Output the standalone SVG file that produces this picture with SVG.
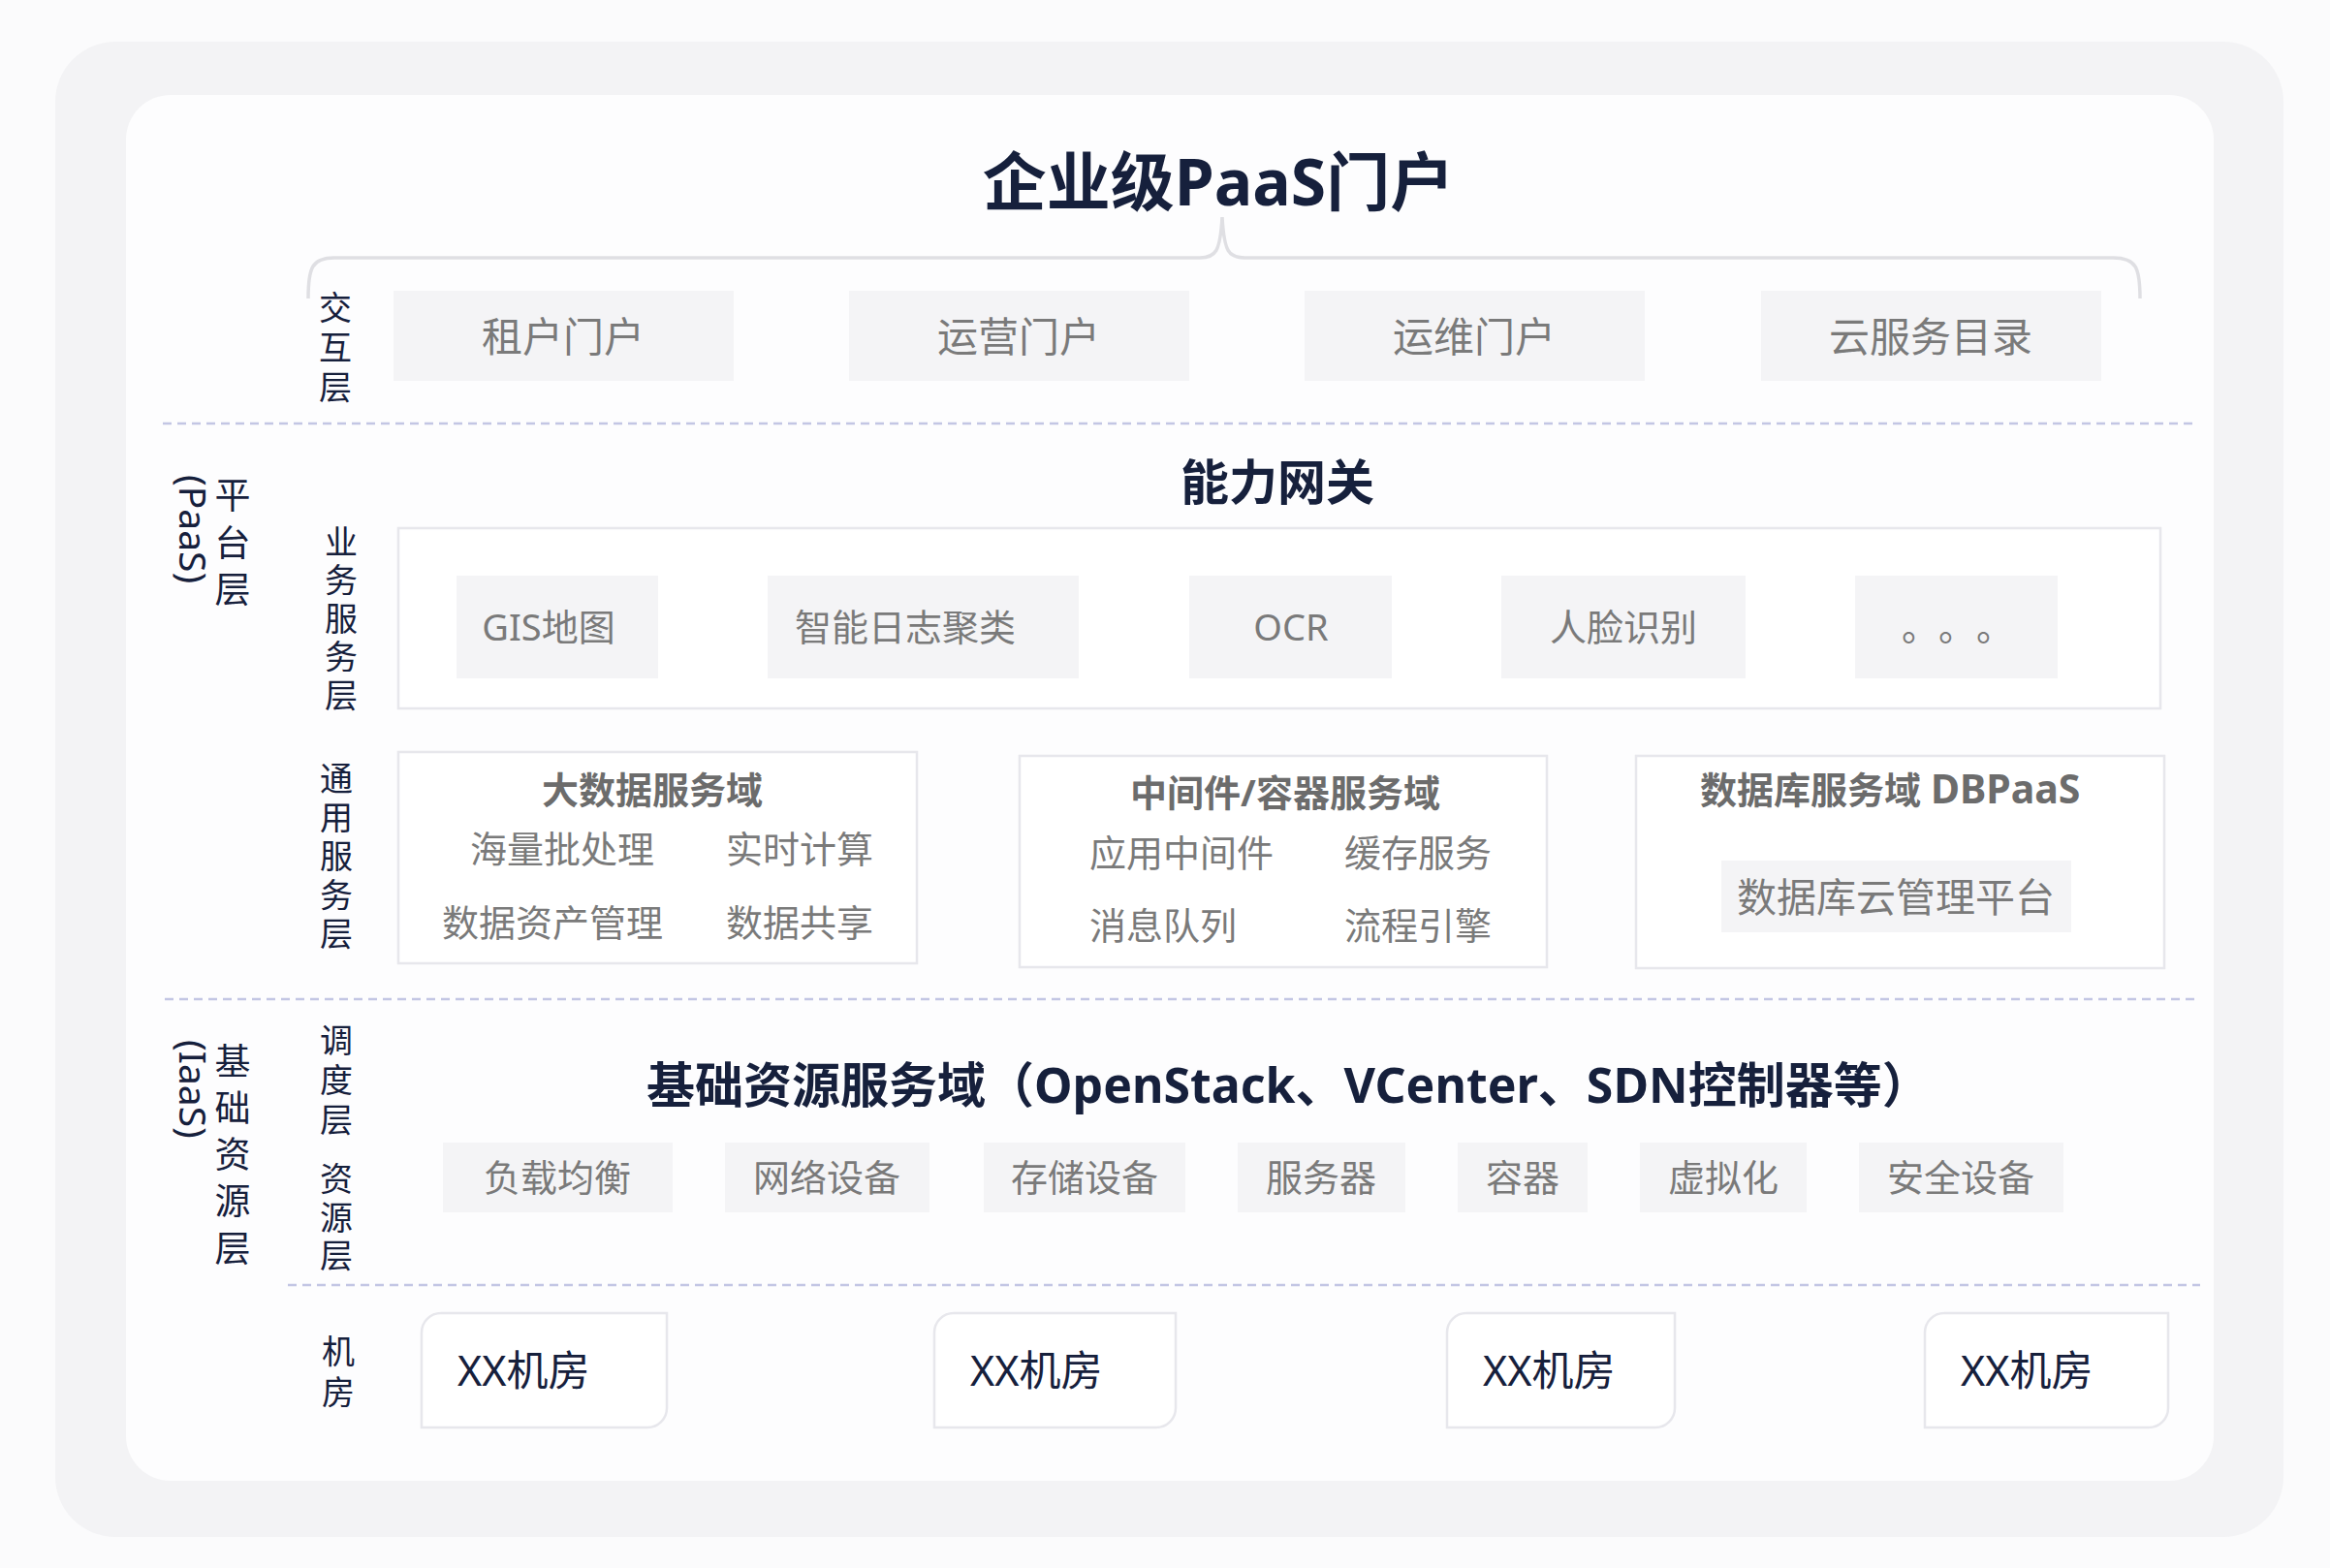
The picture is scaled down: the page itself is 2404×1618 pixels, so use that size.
<svg xmlns="http://www.w3.org/2000/svg" width="2404" height="1618" viewBox="0 0 2404 1618" font-family="'Noto Sans','Noto Sans CJK SC',sans-serif">
<style>
.nav{fill:#16203c}
.g{fill:#7a7a7a}
.gb{fill:#6c6c6c;font-weight:700}
.tile{fill:#f4f4f6}
.frame{fill:#ffffff;stroke:#e7e7ec;stroke-width:2.5}
.dash{fill:none;stroke:#c3c6e4;stroke-width:2.5;stroke-dasharray:9 6}
.lbl{font-size:34px;text-anchor:middle}
.big{font-size:37px;text-anchor:middle}
.it{font-size:38px;text-anchor:middle}
.itl{font-size:38px}
</style>
<rect x="0" y="0" width="2404" height="1618" fill="#fbfbfc"/>
<rect x="57" y="43" width="2299" height="1543" rx="62" fill="#f3f3f5"/>
<rect x="130" y="98" width="2154" height="1430" rx="46" fill="#fdfdfe"/>

<g id="connectors">
  <path d="M318,308 C318,276 322,266 345,266 L1238,266 C1254,266 1259,260 1261,224 C1263,260 1268,266 1284,266 L2180,266 C2204,266 2208,276 2208,308" fill="none" stroke="#dfdfe3" stroke-width="3.5"/>
  <line class="dash" x1="168" y1="437" x2="2264" y2="437"/>
  <line class="dash" x1="170" y1="1031" x2="2264" y2="1031"/>
  <line class="dash" x1="297" y1="1326" x2="2270" y2="1326"/>
</g>

<g id="title">
  <text x="1257" y="212" font-size="66" font-weight="700" text-anchor="middle" class="nav">企业级PaaS门户</text>
</g>

<g id="layer-labels" class="nav">
  <text class="lbl"><tspan x="346" y="330">交</tspan><tspan x="346" y="371">互</tspan><tspan x="346" y="412">层</tspan></text>
  <text class="lbl"><tspan x="352" y="572">业</tspan><tspan x="352" y="611">务</tspan><tspan x="352" y="651">服</tspan><tspan x="352" y="690">务</tspan><tspan x="352" y="730">层</tspan></text>
  <text class="lbl"><tspan x="347" y="816">通</tspan><tspan x="347" y="856">用</tspan><tspan x="347" y="896">服</tspan><tspan x="347" y="936">务</tspan><tspan x="347" y="976">层</tspan></text>
  <text class="lbl"><tspan x="347" y="1086">调</tspan><tspan x="347" y="1127">度</tspan><tspan x="347" y="1168">层</tspan></text>
  <text class="lbl"><tspan x="347" y="1229">资</tspan><tspan x="347" y="1269">源</tspan><tspan x="347" y="1308">层</tspan></text>
  <text class="lbl"><tspan x="349" y="1407">机</tspan><tspan x="349" y="1449">房</tspan></text>
  <text class="big"><tspan x="240" y="525">平</tspan><tspan x="240" y="574">台</tspan><tspan x="240" y="622">层</tspan></text>
  <text class="big"><tspan x="240" y="1109">基</tspan><tspan x="240" y="1157">础</tspan><tspan x="240" y="1205">资</tspan><tspan x="240" y="1253">源</tspan><tspan x="240" y="1302">层</tspan></text>
  <text transform="translate(185,490) rotate(90)" font-size="39">(PaaS)</text>
  <text transform="translate(185,1073) rotate(90)" font-size="39">(IaaS)</text>
</g>

<g id="portal-tenant"><rect class="tile" x="406" y="300" width="351" height="93"/><text class="g" x="581" y="363" font-size="42" text-anchor="middle">租户门户</text></g>
<g id="portal-ops"><rect class="tile" x="876" y="300" width="351" height="93"/><text class="g" x="1051" y="363" font-size="42" text-anchor="middle">运营门户</text></g>
<g id="portal-maint"><rect class="tile" x="1346" y="300" width="351" height="93"/><text class="g" x="1521" y="363" font-size="42" text-anchor="middle">运维门户</text></g>
<g id="portal-catalog"><rect class="tile" x="1817" y="300" width="351" height="93"/><text class="g" x="1992" y="363" font-size="42" text-anchor="middle">云服务目录</text></g>

<g id="gateway">
  <text x="1318" y="516" font-size="50" font-weight="700" text-anchor="middle" class="nav">能力网关</text>
  <rect class="frame" x="411" y="545" width="1818" height="186"/>
</g>
<g id="biz-gis"><rect class="tile" x="471" y="594" width="208" height="106"/><text class="g it" x="566" y="661">GIS地图</text></g>
<g id="biz-log"><rect class="tile" x="792" y="594" width="321" height="106"/><text class="g it" x="934" y="661">智能日志聚类</text></g>
<g id="biz-ocr"><rect class="tile" x="1227" y="594" width="209" height="106"/><text class="g it" x="1332" y="661">OCR</text></g>
<g id="biz-more"><rect class="tile" x="1914" y="594" width="209" height="106"/><text class="g" font-size="38" text-anchor="middle" y="661"><tspan x="1981">。</tspan><tspan x="2019">。</tspan><tspan x="2058">。</tspan></text></g>
<g id="biz-face"><rect class="tile" x="1549" y="594" width="252" height="106"/><text class="g it" x="1675" y="661">人脸识别</text></g>

<g id="bigdata">
  <rect class="frame" x="411" y="776" width="535" height="218"/>
  <text class="gb" x="673" y="829" font-size="38" text-anchor="middle">大数据服务域</text>
  <text class="g itl" x="485" y="890">海量批处理</text>
  <text class="g itl" x="749" y="890">实时计算</text>
  <text class="g itl" x="456" y="966">数据资产管理</text>
  <text class="g itl" x="749" y="966">数据共享</text>
</g>
<g id="middleware">
  <rect class="frame" x="1052" y="780" width="544" height="218"/>
  <text class="gb" x="1326" y="832" font-size="38" text-anchor="middle">中间件/容器服务域</text>
  <text class="g itl" x="1124" y="894">应用中间件</text>
  <text class="g itl" x="1387" y="894">缓存服务</text>
  <text class="g itl" x="1124" y="969">消息队列</text>
  <text class="g itl" x="1387" y="969">流程引擎</text>
</g>
<g id="database">
  <rect class="frame" x="1688" y="780" width="545" height="219"/>
  <text class="gb" x="1754" y="829" font-size="38">数据库服务域 <tspan font-size="41">DBPaaS</tspan></text>
  <rect class="tile" x="1776" y="888" width="361" height="74"/>
  <text class="g" x="1956" y="941" font-size="41" text-anchor="middle">数据库云管理平台</text>
</g>

<g id="iaas-domain">
  <text x="667" y="1138" font-size="50" font-weight="700" class="nav">基础资源服务域（OpenStack、VCenter、SDN控制器等）</text>
</g>
<g id="res-lb"><rect class="tile" x="457" y="1179" width="237" height="72"/><text class="g it" x="575" y="1229">负载均衡</text></g>
<g id="res-net"><rect class="tile" x="748" y="1179" width="211" height="72"/><text class="g it" x="853" y="1229">网络设备</text></g>
<g id="res-storage"><rect class="tile" x="1015" y="1179" width="208" height="72"/><text class="g it" x="1119" y="1229">存储设备</text></g>
<g id="res-server"><rect class="tile" x="1277" y="1179" width="173" height="72"/><text class="g it" x="1363" y="1229">服务器</text></g>
<g id="res-container"><rect class="tile" x="1504" y="1179" width="134" height="72"/><text class="g it" x="1571" y="1229">容器</text></g>
<g id="res-virt"><rect class="tile" x="1692" y="1179" width="172" height="72"/><text class="g it" x="1778" y="1229">虚拟化</text></g>
<g id="res-sec"><rect class="tile" x="1918" y="1179" width="211" height="72"/><text class="g it" x="2023" y="1229">安全设备</text></g>

<g id="room-1"><path class="frame" d="M435,1375 A20,20 0 0 1 455,1355 H688 V1453 A20,20 0 0 1 668,1473 H435 Z"/><text class="nav" x="472" y="1430" font-size="43">XX机房</text></g>
<g id="room-2"><path class="frame" d="M964,1375 A20,20 0 0 1 984,1355 H1213 V1453 A20,20 0 0 1 1193,1473 H964 Z"/><text class="nav" x="1001" y="1430" font-size="43">XX机房</text></g>
<g id="room-3"><path class="frame" d="M1493,1375 A20,20 0 0 1 1513,1355 H1728 V1453 A20,20 0 0 1 1708,1473 H1493 Z"/><text class="nav" x="1530" y="1430" font-size="43">XX机房</text></g>
<g id="room-4"><path class="frame" d="M1986,1375 A20,20 0 0 1 2006,1355 H2237 V1453 A20,20 0 0 1 2217,1473 H1986 Z"/><text class="nav" x="2023" y="1430" font-size="43">XX机房</text></g>
</svg>
